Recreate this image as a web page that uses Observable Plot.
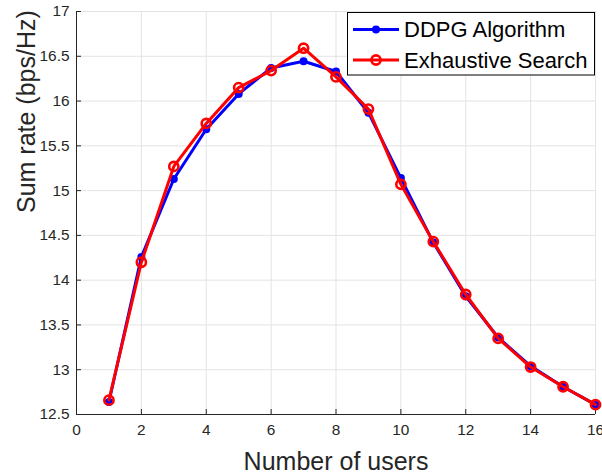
<!DOCTYPE html>
<html><head><meta charset="utf-8">
<script src="https://cdn.jsdelivr.net/npm/d3@7"></script>
<script src="https://cdn.jsdelivr.net/npm/@observablehq/plot@0.6"></script>
<style>body{margin:0;background:#fff}</style>
</head><body><div id="chart"></div>
<script>
const users = [1, 2, 3, 4, 5, 6, 7, 8, 9, 10, 11, 12, 13, 14, 15, 16];
const ddpg = [12.64, 14.26, 15.13, 15.685, 16.08, 16.37, 16.445, 16.33, 15.87, 15.14, 14.42, 13.82, 13.36, 13.04, 12.81, 12.61];
const exhaustive = [12.66, 14.20, 15.27, 15.75, 16.15, 16.34, 16.59, 16.27, 15.91, 15.07, 14.43, 13.84, 13.35, 13.03, 12.81, 12.61];
const seriesNames = ["DDPG Algorithm", "Exhaustive Search"];
const xTicks = [0, 2, 4, 6, 8, 10, 12, 14, 16];
const yTicks = [12.5, 13, 13.5, 14, 14.5, 15, 15.5, 16, 16.5, 17];
const xLabel = "Number of users";
const yLabel = "Sum rate (bps/Hz)";

const W = 602, H = 476;
const M = {top: 11, right: 7, bottom: 62, left: 76};
const xDomain = [0, 16], yDomain = [12.5, 17];
const plotW = W - M.left - M.right, plotH = H - M.top - M.bottom;
const tickPx = 5;
const tkX = (yDomain[1] - yDomain[0]) * tickPx / plotH;
const tkY = (xDomain[1] - xDomain[0]) * tickPx / plotW;

const ddpgRows = users.map((u, i) => ({u, v: ddpg[i]}));
const exRows = users.map((u, i) => ({u, v: exhaustive[i]}));
const axisColor = "#262626";
const gridColor = "#e3e3e3";
const blue = "#0000ff", red = "#ff0000";

const chart = Plot.plot({
  width: W, height: H,
  marginTop: M.top, marginRight: M.right, marginBottom: M.bottom, marginLeft: M.left,
  style: {fontFamily: "Liberation Sans, Arial, sans-serif", fontSize: "15.4px", color: axisColor, background: "#fff", overflow: "visible"},
  x: {domain: xDomain, label: null},
  y: {domain: yDomain, label: null},
  marks: [
    Plot.gridX(xTicks, {stroke: gridColor, strokeOpacity: 1}),
    Plot.gridY(yTicks, {stroke: gridColor, strokeOpacity: 1}),
    Plot.axisX(xTicks, {tickSize: 0, tickPadding: 10, label: null, fill: axisColor, tickFormat: d => `${d}`}),
    Plot.axisY(yTicks, {tickSize: 0, tickPadding: 7, label: null, fill: axisColor, tickFormat: d => `${d}`}),
    Plot.ruleX(xTicks, {x: d => d, y1: yDomain[0], y2: yDomain[0] + tkX, stroke: axisColor}),
    Plot.ruleY(yTicks, {y: d => d, x1: xDomain[0], x2: xDomain[0] + tkY, stroke: axisColor}),
    Plot.ruleY([yDomain[0]], {stroke: axisColor}),
    Plot.ruleX([xDomain[0]], {stroke: axisColor}),
    Plot.line(ddpgRows, {x: "u", y: "v", stroke: blue, strokeWidth: 3}),
    Plot.dot(ddpgRows, {x: "u", y: "v", r: 4, fill: blue}),
    Plot.line(exRows, {x: "u", y: "v", stroke: red, strokeWidth: 3}),
    Plot.dot(exRows, {x: "u", y: "v", r: 4.6, stroke: red, strokeWidth: 2.6, fill: "none"}),
    Plot.text([xLabel], {text: d => d, frameAnchor: "bottom", dy: 47, fontSize: 25, lineAnchor: "middle", fill: axisColor}),
    Plot.text([yLabel], {text: d => d, frameAnchor: "left", dx: -50, rotate: -90, fontSize: 25, lineAnchor: "middle", fill: axisColor})
  ]
});

// Legend
const svg = d3.select(chart);
const lg = svg.append("g").attr("text-anchor", "start");
const bx = 347.5, by = 12.5, bw = 247, bh = 62.5;
lg.append("rect").attr("x", bx).attr("y", by).attr("width", bw).attr("height", bh)
  .attr("fill", "#fff").attr("stroke", "#000").attr("stroke-width", 1);
const rowsY = [29.5, 60];
seriesNames.forEach((name, i) => {
  const y = rowsY[i];
  const col = i === 0 ? blue : red;
  lg.append("line").attr("x1", 353).attr("x2", 399).attr("y1", y).attr("y2", y)
    .attr("stroke", col).attr("stroke-width", 3);
  if (i === 0) lg.append("circle").attr("cx", 376).attr("cy", y).attr("r", 4).attr("fill", blue);
  else lg.append("circle").attr("cx", 376).attr("cy", y).attr("r", 4.6).attr("fill", "none").attr("stroke", red).attr("stroke-width", 2.6);
  lg.append("text").attr("x", 404).attr("y", y).attr("dy", "0.35em")
    .attr("text-anchor", "start").attr("font-size", 22).attr("fill", "#000").text(name);
});

document.getElementById("chart").appendChild(chart);
</script>
</body></html>
